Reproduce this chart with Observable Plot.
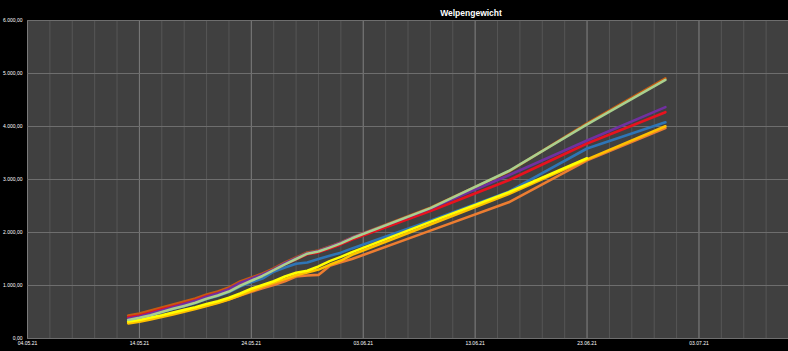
<!DOCTYPE html>
<html><head><meta charset="utf-8">
<script src="https://cdn.jsdelivr.net/npm/d3@7"></script>
<script src="https://cdn.jsdelivr.net/npm/@observablehq/plot@0.6"></script>
<style>
html,body{margin:0;padding:0;background:#000;}
</style>
</head><body><div id="chart"></div>
<script>
const title = "Welpengewicht";
const dates = ["13.05.21","14.05.21","15.05.21","16.05.21","17.05.21","18.05.21","19.05.21","20.05.21","21.05.21","22.05.21","23.05.21","24.05.21","25.05.21","26.05.21","27.05.21","28.05.21","29.05.21","30.05.21","31.05.21","01.06.21","02.06.21","09.06.21","16.06.21","23.06.21","30.06.21"];
const seriesNames = ["Braun","Orange","Gold","Blau","Gelb","Rot","Lila","Grün"];
const seriesColors = ["#c55a11","#ed7d31","#ffc000","#2e75b6","#ffff00","#e8121e","#7030a0","#a9d08e"];
const braun  = [434,472,528,585,641,698,755,830,887,962,1076,1151,1227,1321,1434,1528,1623,1660,1736,1812,1906,2470,3150,4057,4906];
const orange = [300,330,375,420,470,520,570,625,680,740,810,880,950,1010,1080,1170,1190,1200,1370,1440,1500,2035,2570,3360,3972];
const gold   = [285,315,360,405,455,505,555,615,670,735,815,900,980,1050,1120,1195,1245,1300,1390,1470,1580,2150,2725,3380,4005];
const blau   = [360,395,445,500,555,610,670,745,800,875,980,1060,1130,1260,1340,1410,1435,1500,1560,1620,1700,2220,2770,3585,4080];
const gelb   = [320,350,395,440,490,540,590,650,705,770,850,940,1010,1080,1170,1240,1280,1360,1460,1540,1630,2200,2760,3400,null];
const rot    = [400,435,492,550,605,662,722,798,855,930,1045,1120,1200,1295,1400,1495,1590,1625,1700,1775,1866,2405,2985,3680,4270];
const lila   = [375,415,470,530,590,650,710,790,850,930,1050,1130,1210,1305,1420,1515,1610,1650,1728,1805,1900,2450,3080,3736,4365];
const gruen  = [350,390,440,500,560,615,675,750,810,885,995,1090,1180,1290,1400,1500,1600,1640,1715,1795,1890,2460,3160,4040,4880];
const seriesValues = [braun, orange, gold, blau, gelb, rot, lila, gruen];
const xStart = "04.05.21", xEnd = "11.07.21";
const yTicks = [0,1000,2000,3000,4000,5000,6000];

const parse = d3.utcParse("%d.%m.%y");
const rows = [];
seriesNames.forEach((name, i) => {
  seriesValues[i].forEach((v, j) => {
    if (v != null) rows.push({name, date: parse(dates[j]), value: v});
  });
});
const start = parse(xStart), end = parse(xEnd);
const nDays = d3.utcDay.count(start, end);
const minorTicks = d3.range(0, nDays + 1, 2).map(d => d3.utcDay.offset(start, d));
const majorTicks = d3.range(0, nDays + 1, 10).map(d => d3.utcDay.offset(start, d));
const de = d3.formatLocale({decimal: ",", thousands: ".", grouping: [3], currency: ["", "€"]});
const fmtY = de.format(",.2f");
const fmtX = d3.utcFormat("%d.%m.%y");

const chart = Plot.plot({
  width: 788, height: 351,
  marginLeft: 27, marginRight: 0, marginTop: 20, marginBottom: 13,
  style: {background: "#000", color: "#fff", fontFamily: "Liberation Sans, Arial, sans-serif", fontSize: "5px"},
  x: {type: "utc", domain: [start, end]},
  y: {domain: [0, 6000]},
  color: {domain: seriesNames, range: seriesColors},
  marks: [
    Plot.frame({fill: "#404040"}),
    Plot.ruleX(minorTicks, {stroke: "#555555", strokeWidth: 1}),
    Plot.ruleX(majorTicks, {stroke: "#7a7a7a", strokeWidth: 1}),
    Plot.ruleY(yTicks, {stroke: "#6e6e6e", strokeWidth: 1}),
    Plot.axisY({ticks: yTicks, tickFormat: fmtY, tickSize: 0, tickPadding: 5, label: null, fill: "#fff"}),
    Plot.axisX({ticks: majorTicks, tickFormat: fmtX, tickSize: 0, tickPadding: 3, label: null, fill: "#fff"}),
    Plot.lineY(rows, {x: "date", y: "value", z: "name", stroke: "name", strokeWidth: 2.6, strokeLinejoin: "round", strokeLinecap: "round"}),
    Plot.text([title], {text: d => d, frameAnchor: "top", dx: 63, dy: -10.5, fontWeight: "bold", fontSize: 8.5, fill: "#fff"})
  ]
});
document.getElementById("chart").appendChild(chart);
</script>
</body></html>
